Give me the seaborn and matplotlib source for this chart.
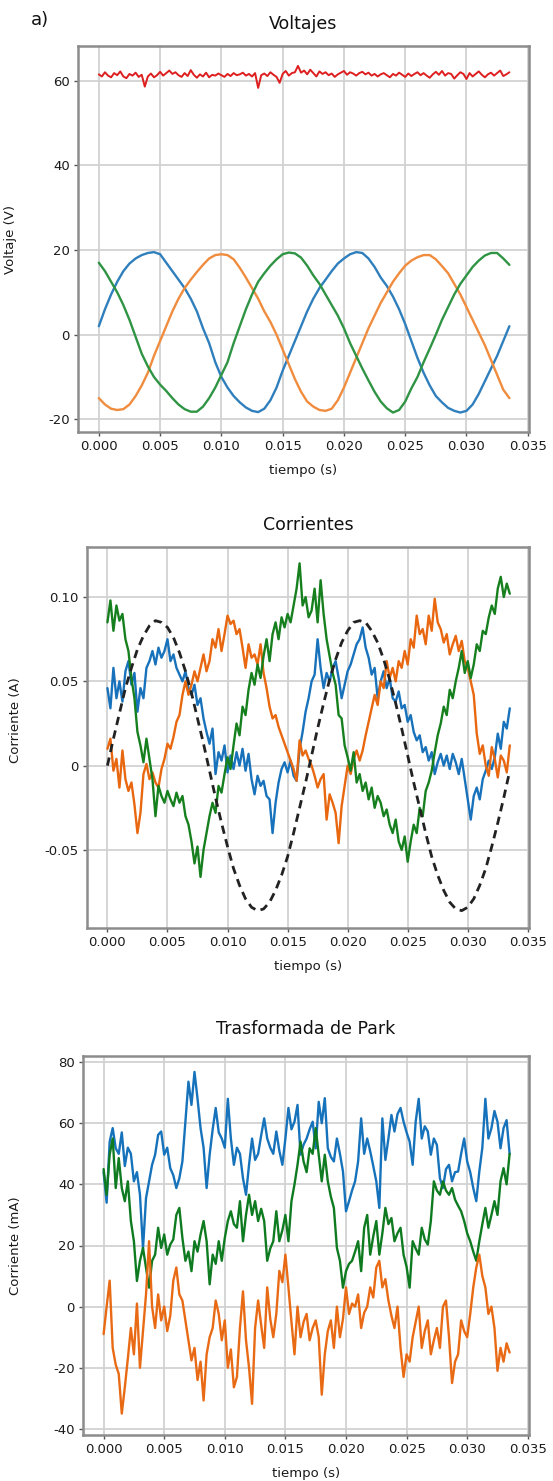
import numpy as np
import pandas as pd
import matplotlib
matplotlib.use("Agg")
import matplotlib.pyplot as plt
import seaborn as sns

# ---------------- data ----------------
# Voltajes (V), sampled every 0.5 ms from 0 to 33.5 ms
v_blue = [2, 6, 9.5, 12.5, 15, 16.8, 18, 18.8, 19.3, 19.5, 19, 17, 15, 13, 11, 8.5, 5.5, 1.5,
          -2, -6.5, -10, -12.5, -14.5, -16, -17.2, -18, -18.3, -17.5, -15.5, -12.5, -8.5, -5,
          -1.5, 2, 5.5, 8.5, 11, 13, 15, 16.8, 18, 19, 19.5, 19.3, 18, 16, 13.5, 11.5, 9, 6,
          2.5, -1.5, -5.5, -9, -12, -14.5, -16, -17.3, -18, -18.4, -18, -16.5, -14, -11, -8,
          -5, -1.5, 2]
v_orange = [-15, -16.5, -17.5, -17.8, -17.6, -16.5, -14.5, -12, -9, -5, -1.5, 2, 5.5, 8.5,
            11, 13, 14.8, 16.5, 18, 18.8, 19, 18.8, 17.8, 15.8, 13.5, 11, 8.5, 5.5, 3, 0,
            -3.5, -7, -10.5, -13.5, -15.8, -17, -17.8, -18, -17.5, -15.5, -12.5, -9, -5.5,
            -2, 1.5, 4.5, 7.5, 10, 12.5, 14.5, 16.3, 17.5, 18.3, 18.8, 18.8, 17.8, 16.2,
            14.5, 12, 9.5, 6.5, 3.5, 0.5, -2.5, -6, -9.5, -13, -15]
v_green = [17, 15, 12.5, 10, 7, 3.5, -0.5, -4.5, -7.5, -10, -11.8, -13.3, -15, -16.5, -17.6,
           -18.2, -18.2, -17, -15, -12.5, -9.5, -6.5, -2, 2, 6, 9.5, 12.5, 14.5, 16.3, 17.8,
           19, 19.4, 19.2, 18.2, 16.3, 14, 12, 9.5, 7, 4.5, 1.5, -2, -5, -8, -10.8, -13.5,
           -15.8, -17.4, -18.4, -17.8, -15.8, -12.7, -10, -6.5, -3.3, 0, 3.5, 6.5, 9.5, 12,
           14, 16, 17.5, 18.7, 19.3, 19.3, 18, 16.5]
v_red = [61.5, 61.0, 62.0, 61.2, 60.8, 61.8, 61.3, 62.2, 61.0, 60.6, 61.6, 61.2, 61.9, 60.9,
         61.4, 58.6, 61.0, 61.7, 60.8, 61.3, 62.1, 61.2, 61.8, 62.4, 61.6, 62.0, 61.3, 60.9,
         61.8, 61.1, 62.5, 61.4, 60.7, 61.5, 61.0, 61.9, 60.8, 61.4, 61.2, 61.7, 61.3, 60.9,
         61.6, 61.1, 61.8, 61.3, 61.5, 61.9, 61.2, 61.6, 61.0, 61.8, 58.3, 61.3, 61.7, 61.1,
         62.0, 61.4, 60.9, 59.5, 61.6, 62.3, 61.2, 61.8, 62.0, 63.5, 61.9, 62.4, 61.5, 62.6,
         61.8, 61.0, 62.2, 61.6, 62.0, 61.3, 61.7, 60.9, 61.5, 61.9, 62.3, 61.4, 62.0, 61.7,
         61.2, 61.8, 62.1, 61.5, 61.9, 61.2, 61.6, 61.0, 61.5, 61.8, 61.3, 60.8, 61.6, 61.2,
         61.9, 61.4, 60.9, 61.7, 61.1, 61.6, 62.0, 61.3, 61.8, 61.2, 60.7, 61.5, 62.1, 61.4,
         62.3, 61.2, 61.8, 61.6, 60.5, 61.3, 62.0, 61.6, 60.4, 61.8, 61.0, 61.6, 62.2, 61.4,
         60.8, 61.5, 61.9, 61.2, 61.8, 62.4, 61.1, 61.5, 62.0]

# Corrientes (A), sampled every 0.25 ms
i_blue = [0.046, 0.034, 0.058, 0.040, 0.050, 0.038, 0.056, 0.062, 0.048, 0.055, 0.032, 0.046,
          0.040, 0.058, 0.062, 0.068, 0.060, 0.070, 0.064, 0.068, 0.075, 0.062, 0.066, 0.058,
          0.054, 0.050, 0.056, 0.046, 0.042, 0.048, 0.036, 0.040, 0.028, 0.020, 0.013, 0.022,
          -0.005, 0.008, 0.003, 0.012, -0.004, 0.006, -0.002, 0.008, 0.000, 0.010, -0.003,
          0.007, -0.008, -0.017, -0.006, -0.012, -0.009, -0.018, -0.020, -0.040, -0.022,
          -0.010, -0.002, 0.002, -0.004, 0.003, -0.006, -0.009, 0.010, 0.020, 0.032, 0.040,
          0.050, 0.054, 0.075, 0.058, 0.046, 0.055, 0.050, 0.058, 0.062, 0.052, 0.040, 0.048,
          0.056, 0.060, 0.066, 0.072, 0.075, 0.082, 0.070, 0.064, 0.054, 0.058, 0.040, 0.050,
          0.056, 0.046, 0.052, 0.040, 0.038, 0.044, 0.034, 0.036, 0.026, 0.030, 0.020, 0.015,
          0.018, 0.008, 0.011, 0.003, 0.008, -0.005, 0.002, 0.007, 0.000, 0.006, -0.002,
          0.007, 0.002, -0.005, 0.004, -0.008, -0.020, -0.032, -0.018, -0.013, -0.020, -0.008,
          -0.003, 0.003, -0.002, 0.005, 0.019, 0.010, 0.026, 0.022, 0.034]
i_orange = [0.010, 0.016, -0.003, 0.004, -0.013, 0.009, -0.008, -0.015, -0.010, -0.023, -0.040,
            -0.028, -0.005, 0.001, -0.008, -0.004, -0.010, -0.013, -0.002, 0.004, 0.013, 0.010,
            0.017, 0.026, 0.030, 0.042, 0.050, 0.042, 0.048, 0.056, 0.050, 0.058, 0.066, 0.056,
            0.062, 0.075, 0.070, 0.081, 0.068, 0.078, 0.089, 0.084, 0.086, 0.078, 0.081, 0.070,
            0.058, 0.072, 0.064, 0.066, 0.060, 0.072, 0.055, 0.046, 0.035, 0.028, 0.030, 0.023,
            0.018, 0.013, 0.008, 0.003, -0.002, -0.009, 0.015, 0.006, 0.009, 0.004, 0.000,
            -0.006, -0.013, -0.008, -0.005, -0.032, -0.017, -0.022, -0.028, -0.046, -0.024,
            -0.012, 0.000, -0.005, 0.004, 0.009, 0.003, 0.009, 0.018, 0.026, 0.034, 0.042,
            0.036, 0.050, 0.046, 0.062, 0.052, 0.058, 0.050, 0.062, 0.058, 0.068, 0.060, 0.075,
            0.070, 0.089, 0.078, 0.081, 0.072, 0.089, 0.080, 0.099, 0.085, 0.081, 0.073, 0.078,
            0.066, 0.072, 0.077, 0.068, 0.074, 0.062, 0.058, 0.050, 0.042, 0.019, 0.007, 0.012,
            0.000, -0.006, 0.011, 0.004, -0.007, 0.006, 0.003, -0.004, 0.012]
i_green = [0.085, 0.098, 0.080, 0.095, 0.086, 0.090, 0.075, 0.068, 0.052, 0.040, 0.020, 0.012,
           0.002, 0.016, 0.004, -0.008, -0.030, -0.012, -0.018, -0.022, -0.015, -0.020, -0.024,
           -0.016, -0.022, -0.018, -0.030, -0.035, -0.045, -0.058, -0.048, -0.066, -0.050,
           -0.040, -0.030, -0.022, -0.028, -0.012, -0.016, -0.005, 0.005, -0.002, 0.012, 0.025,
           0.018, 0.035, 0.030, 0.045, 0.055, 0.048, 0.060, 0.052, 0.065, 0.075, 0.062, 0.078,
           0.085, 0.075, 0.088, 0.082, 0.090, 0.085, 0.095, 0.105, 0.120, 0.095, 0.100, 0.088,
           0.092, 0.105, 0.085, 0.110, 0.090, 0.075, 0.065, 0.055, 0.048, 0.030, 0.028, 0.012,
           0.005, -0.003, 0.008, -0.010, -0.005, -0.015, -0.010, -0.020, -0.013, -0.025,
           -0.018, -0.022, -0.030, -0.026, -0.035, -0.040, -0.032, -0.045, -0.050, -0.042,
           -0.057, -0.045, -0.035, -0.040, -0.025, -0.030, -0.015, -0.010, -0.003, 0.008,
           0.018, 0.025, 0.035, 0.030, 0.045, 0.040, 0.050, 0.058, 0.068, 0.055, 0.062, 0.052,
           0.060, 0.072, 0.068, 0.080, 0.078, 0.088, 0.095, 0.090, 0.105, 0.112, 0.100, 0.108,
           0.102]
# reference sinusoid (dashed), every 0.5 ms
i_ref = [0.000, 0.016, 0.031, 0.046, 0.058, 0.069, 0.077, 0.083, 0.086, 0.085, 0.082, 0.076,
         0.067, 0.056, 0.043, 0.028, 0.013, -0.003, -0.019, -0.034, -0.048, -0.061, -0.071,
         -0.079, -0.084, -0.086, -0.085, -0.081, -0.074, -0.065, -0.054, -0.040, -0.025,
         -0.010, 0.006, 0.022, 0.037, 0.051, 0.063, 0.073, 0.080, 0.085, 0.086, 0.085, 0.080,
         0.073, 0.063, 0.051, 0.037, 0.022, 0.006, -0.010, -0.025, -0.040, -0.054, -0.065,
         -0.074, -0.081, -0.085, -0.086, -0.084, -0.079, -0.071, -0.061, -0.048, -0.034,
         -0.019, -0.003]

# Trasformada de Park (mA), sampled every 0.25 ms
p_blue = [44, 34, 54, 58.4, 51.8, 50, 57, 46, 52, 50, 41, 44, 36.6, 19, 35.5, 41, 46.4, 49.7,
          56.2, 57.3, 49.7, 52, 45.3, 43, 38.8, 42, 47.5, 60.5, 73.6, 66, 76.8, 68, 58.4, 52,
          38.8, 49.7, 58, 65, 57, 55, 52, 68, 55, 46.4, 52, 50, 42, 36.6, 46.4, 55, 48, 50, 56,
          61.6, 55, 52, 50, 57.3, 51, 46.4, 55, 65, 58, 60.5, 66, 49.7, 53, 55, 58, 60.5,
          51.8, 67, 60, 68.2, 51.8, 49, 47.5, 55, 50, 44.2, 31.2, 34.5, 38, 41, 47.5, 61.6,
          50, 55, 50.8, 46, 41, 32.3, 61.6, 48, 55, 62.7, 57.3, 63, 65, 60.5, 57, 54, 46.4,
          60.5, 68, 55, 59, 57.3, 49.7, 55, 52.9, 42, 38.8, 45, 46.4, 41, 44, 44.2, 50, 55,
          47.5, 44, 38.8, 34.5, 44.2, 52, 68, 55, 58.4, 64, 60.5, 51.8, 58.4, 61, 50]
p_green = [45, 36.6, 49.7, 55, 38.8, 48.6, 38.8, 34.5, 41, 28, 21.4, 8.4, 15, 19.2, 12.7, 6.2,
           15, 17, 25.8, 19.2, 23.6, 17, 20.3, 22, 30, 32.3, 22.5, 15, 18, 11.6, 21.4, 18,
           23.6, 28, 21.4, 7.3, 17, 14, 21.4, 15, 22.5, 28, 31.2, 27, 25.8, 34.5, 21.4, 30,
           36.6, 30, 34.5, 28, 32, 28, 15, 19, 21.4, 31.2, 21.4, 25, 30, 21.4, 34.5, 40, 46.4,
           54, 47.5, 44, 51.8, 50, 58.4, 49.7, 41, 49.7, 41, 36, 32.3, 19.2, 15, 6.2, 11.6, 14,
           15, 18, 21.4, 11.6, 25.8, 30, 17, 23, 28, 17, 24, 32.3, 27, 29, 21.4, 24, 25.8, 17,
           13, 6.2, 21.4, 19, 17, 25.8, 22, 20.3, 28, 41, 38, 36.6, 41, 38, 36.6, 38.8, 35, 33,
           31.2, 28, 24, 21.4, 18, 15, 21.4, 27, 32.3, 25.8, 30, 34.5, 30, 41, 45.3, 40, 50]
p_orange = [-9, 0, 8.5, -13.5, -19, -22, -35, -26.4, -17, -7, -15.6, 1, -20, -8, 4, 21.4, 0, -7,
            4, -4.5, 0, -8, -3, 8.5, 12.8, 4, 2, -4.5, -11, -17.6, -13.5, -24, -18, -30.7,
            -15.6, -10, -7, 2, -2.4, -11, -4.5, -20, -14, -26.4, -23, -7, 5, -11, -20, -31.8,
            -7, 2, -6, -13.5, 6.3, -4, -10, -2.4, 11.7, 8, 17, 6.3, -5, -15.6, 0, -10, -5,
            -2.4, -11, -7, -4.5, -10, -28.8, -15.6, -8, -4.5, -13.5, 0, -10, -4, 6.3, -2.4, 1,
            0, 4, -7, -2, 0, 6.3, 3, 12.8, 15, 6.3, 9, 2, -3, -7, 0, -13.5, -23, -15.6, -18,
            -10, -5, 0, -13.5, -8, -4.5, -15.6, -11, -7, -13.5, 0, 2, -10, -25, -18, -15.6,
            -4.5, -8, -10, -2.4, 6.3, 12.8, 17, 10, 6.3, -2.4, 0, -7, -21, -13.5, -18, -12, -15]

xticks = [0.000, 0.005, 0.010, 0.015, 0.020, 0.025, 0.030, 0.035]
xtick_labels = ["0.000", "0.005", "0.010", "0.015", "0.020", "0.025", "0.030", "0.035"]
T_END = 0.0335


def tgrid(vals):
    return np.linspace(0, T_END, len(vals))


sns.set_theme(style="whitegrid")
plt.rcParams["font.family"] = ["DejaVu Sans"]

fig = plt.figure(figsize=(5.53, 14.81), dpi=100)
W, H = 553.0, 1481.0


def make_ax(left, right, top, bottom):
    return fig.add_axes([left / W, 1 - bottom / H, (right - left) / W, (bottom - top) / H])


def style(ax, ylim, yticks, ylabels, ylabel, title, pad, ylab_xy):
    ax.set_facecolor("white")
    ax.set_xlim(-0.0017, 0.0351)
    ax.set_ylim(*ylim)
    ax.set_xticks(xticks)
    ax.set_xticklabels(xtick_labels)
    ax.set_yticks(yticks)
    ax.set_yticklabels(ylabels)
    ax.grid(True, color="#d2d2d2", lw=1.3)
    for s in ax.spines.values():
        s.set_visible(True)
        s.set_color("#8c8c8c")
        s.set_linewidth(1.8)
    ax.tick_params(axis="both", which="both", length=3, width=1, color="#555555",
                   labelsize=9.5, labelcolor="#1a1a1a", pad=3, direction="out",
                   bottom=True, left=True)
    ax.set_xlabel("tiempo (s)", fontsize=9.5, color="#1a1a1a", labelpad=8)
    ax.set_ylabel(ylabel, fontsize=9.5, color="#1a1a1a")
    ax.yaxis.set_label_coords(*ylab_xy)
    ax.set_title(title, fontsize=12.5, color="#111111", pad=pad)
    ax.set_axisbelow(True)


# ---------------- Voltajes ----------------
ax1 = make_ax(78, 529, 46, 432)
for vals, col in [(v_blue, "#2f7fbd"), (v_orange, "#f08c3e"), (v_green, "#2f9444")]:
    sns.lineplot(x=tgrid(vals), y=vals, ax=ax1, color=col, lw=1.7, estimator=None, sort=False)
sns.lineplot(x=tgrid(v_red), y=v_red, ax=ax1, color="#de1f1f", lw=1.4, estimator=None, sort=False)
style(ax1, (-23, 68.2), [60, 40, 20, 0, -20], ["60", "40", "20", "0", "-20"],
      "Voltaje (V)", "Voltajes", 12, (-0.135, 0.5))
fig.text(40 / W, 1 - 20 / H, "a)", fontsize=13, ha="center", va="center", color="#111111")

# ---------------- Corrientes ----------------
ax2 = make_ax(87, 529, 547, 928)
for vals, col in [(i_blue, "#1872bb"), (i_orange, "#e8670f"), (i_green, "#17801e")]:
    sns.lineplot(x=tgrid(vals), y=vals, ax=ax2, color=col, lw=1.7, estimator=None, sort=False)
sns.lineplot(x=tgrid(i_ref), y=i_ref, ax=ax2, color="#222222", lw=2.0, estimator=None,
             sort=False, linestyle=(0, (3, 2)))
style(ax2, (-0.0963, 0.1297), [0.10, 0.05, 0.0, -0.05], ["0.10", "0.05", "0", "-0.05"],
      "Corriente (A)", "Corrientes", 12, (-0.147, 0.545))

# ---------------- Trasformada de Park ----------------
ax3 = make_ax(83, 529, 1056, 1435)
for vals, col in [(p_blue, "#1673bb"), (p_green, "#0f7b20"), (p_orange, "#e96a14")]:
    sns.lineplot(x=tgrid(vals), y=vals, ax=ax3, color=col, lw=1.7, estimator=None, sort=False)
style(ax3, (-42, 82), [80, 60, 40, 20, 0, -20, -40],
      ["80", "60", "40", "20", "0", "-20", "-40"],
      "Corriente (mA)", "Trasformada de Park", 16, (-0.137, 0.5))

fig.savefig("out.png", dpi=100, facecolor="white")
